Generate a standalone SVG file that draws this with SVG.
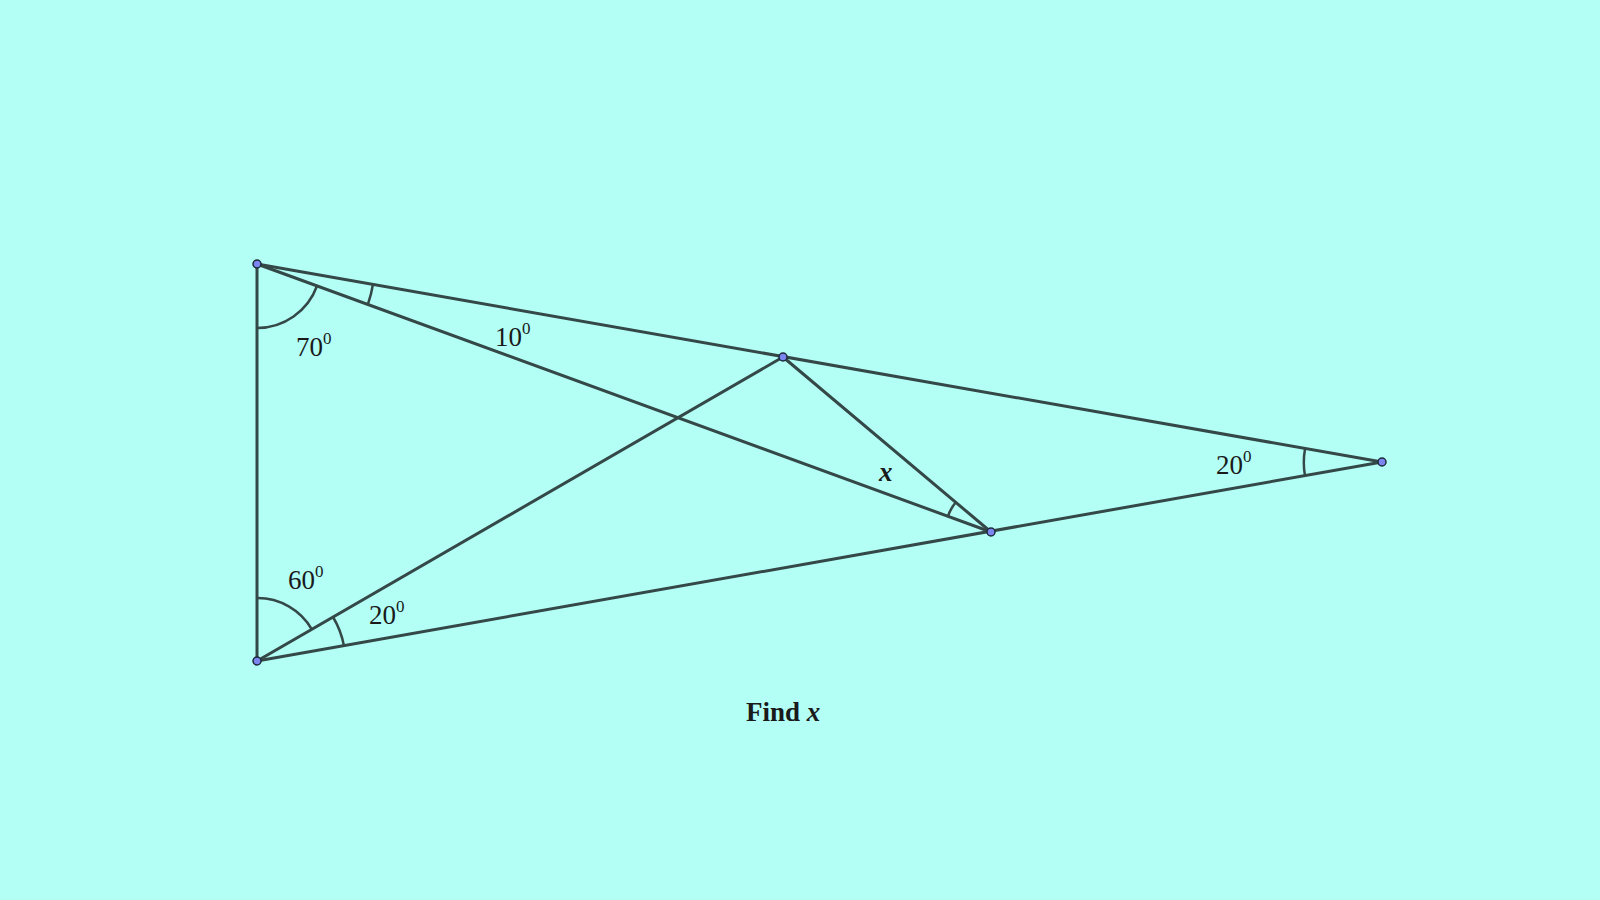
<svg xmlns="http://www.w3.org/2000/svg" width="1600" height="900" viewBox="0 0 1600 900">
<style>
.l{stroke:#354848;stroke-width:3;fill:none;stroke-linecap:round}
.a{stroke:#354848;stroke-width:2.5;fill:none}
.p{fill:#7b86f0;stroke:#1d2a3a;stroke-width:1.5}
.t{font-family:"Liberation Serif",serif;font-size:27px;fill:#1a1a1a}
.s{font-size:17px}
</style>
<rect width="1600" height="900" fill="#b3fff6"/>
<g id="connectors">
<line class="l" x1="257" y1="264" x2="257" y2="661"/>
<line class="l" x1="257" y1="264" x2="1382" y2="462"/>
<line class="l" x1="257" y1="264" x2="991" y2="532"/>
<line class="l" x1="257" y1="661" x2="1382" y2="462"/>
<line class="l" x1="257" y1="661" x2="783" y2="357"/>
<line class="l" x1="783" y1="357" x2="991" y2="532"/>
</g>
<g id="angles">
<path class="a" d="M257,328 A64,64 0 0 0 317,286"/>
<path class="a" d="M373,284 A118,118 0 0 1 368,304"/>
<path class="a" d="M257,598 A63,63 0 0 1 312,629.5"/>
<path class="a" d="M333,617 A88,88 0 0 1 344,646"/>
<path class="a" d="M1305,449 A78,78 0 0 0 1305,476"/>
<path class="a" d="M948,516 A46,46 0 0 1 956,502"/>
</g>
<g id="A"><circle class="p" cx="257" cy="264" r="4"/></g>
<g id="B"><circle class="p" cx="257" cy="661" r="4"/></g>
<g id="C"><circle class="p" cx="783" cy="357" r="4"/></g>
<g id="D"><circle class="p" cx="991" cy="532" r="4"/></g>
<g id="E"><circle class="p" cx="1382" cy="462" r="4"/></g>
<g id="labels">
<text class="t" x="296" y="356">70<tspan class="s" dy="-12">0</tspan></text>
<text class="t" x="495" y="346">10<tspan class="s" dy="-12">0</tspan></text>
<text class="t" x="288" y="589">60<tspan class="s" dy="-12">0</tspan></text>
<text class="t" x="369" y="624">20<tspan class="s" dy="-12">0</tspan></text>
<text class="t" x="1216" y="474">20<tspan class="s" dy="-12">0</tspan></text>
<text class="t" x="879" y="481" font-weight="bold" font-style="italic">x</text>
<text class="t" x="746" y="721" font-weight="bold" font-size="28">Find <tspan font-style="italic">x</tspan></text>
</g>
</svg>
